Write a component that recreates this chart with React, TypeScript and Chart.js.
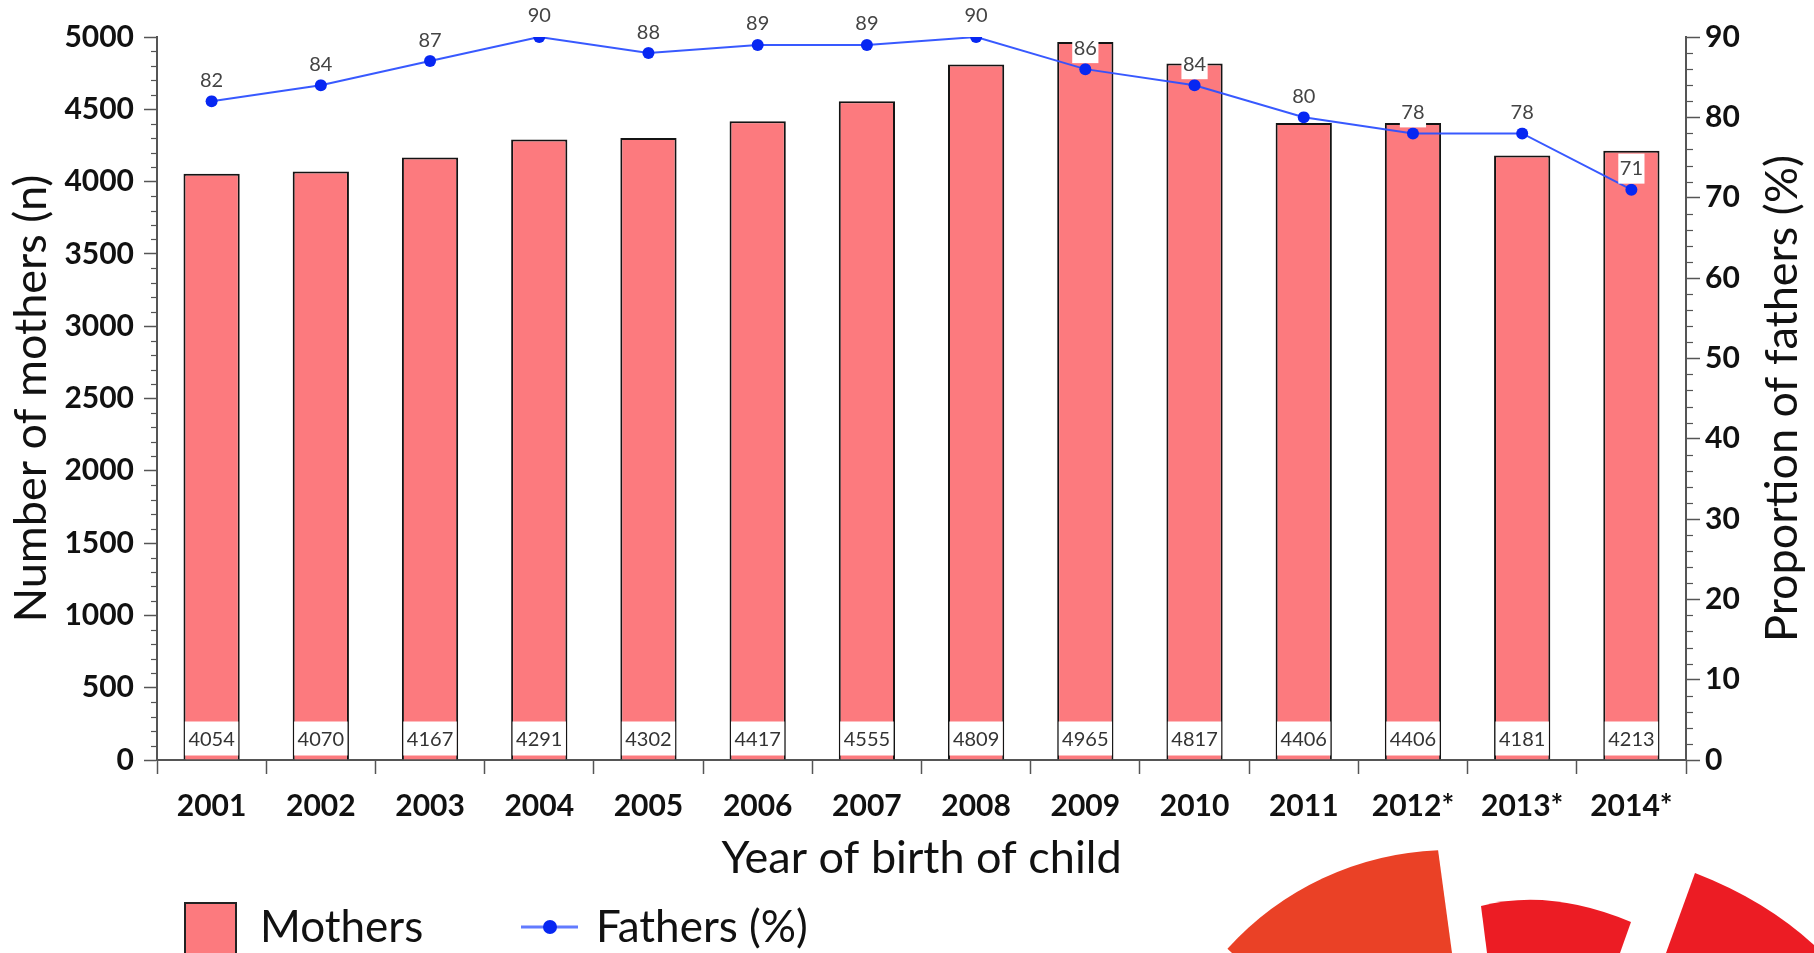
import React, { useEffect, useRef } from 'react';
import { Chart, registerables } from 'chart.js';

Chart.register(...registerables);

// ---- data ----
const years = ['2001', '2002', '2003', '2004', '2005', '2006', '2007', '2008', '2009', '2010', '2011', '2012*', '2013*', '2014*'];
const mothers = [4054, 4070, 4167, 4291, 4302, 4417, 4555, 4809, 4965, 4817, 4406, 4406, 4181, 4213];
const fathersPct = [82, 84, 87, 90, 88, 89, 89, 90, 86, 84, 80, 78, 78, 71];
const leftAxis = { min: 0, max: 5000, major: 500, minor: 100 };
const rightAxis = { min: 0, max: 90, major: 10, minor: 2 };
const seriesLabels = ['Mothers', 'Fathers (%)'];
const axisTitles = { x: 'Year of birth of child', left: 'Number of mothers (n)', right: 'Proportion of fathers (%)' };

// ---- styles ----
const FONT = 'Lato, "Open Sans", "DejaVu Sans", sans-serif';
const BAR_COLOR = '#FC7A7E';
const LINE_COLOR = 'rgba(45, 80, 255, 0.95)';
const POINT_COLOR = '#0727f2';
const AXIS_COLOR = '#555555';
const TEXT_COLOR = '#111111';

const minorTicksPlugin = {
  id: 'minorTicks',
  afterDraw(chart: any) {
    const ctx = chart.ctx;
    ctx.save();
    ctx.strokeStyle = AXIS_COLOR;
    ctx.lineWidth = 1.2;
    const y = chart.scales.y;
    for (let v = leftAxis.min; v <= leftAxis.max; v += leftAxis.minor) {
      if (v % leftAxis.major === 0) continue;
      const p = Math.round(y.getPixelForValue(v)) + 0.5;
      ctx.beginPath();
      ctx.moveTo(y.right, p);
      ctx.lineTo(y.right - 6, p);
      ctx.stroke();
    }
    const y1 = chart.scales.y1;
    for (let v = rightAxis.min; v <= rightAxis.max; v += rightAxis.minor) {
      if (v % rightAxis.major === 0) continue;
      const p = Math.round(y1.getPixelForValue(v)) + 0.5;
      ctx.beginPath();
      ctx.moveTo(y1.left, p);
      ctx.lineTo(y1.left + 7, p);
      ctx.stroke();
    }
    ctx.restore();
  },
};

const dataLabelsPlugin = {
  id: 'dataLabels',
  afterDatasetsDraw(chart: any) {
    const ctx = chart.ctx;
    ctx.save();
    ctx.font = `20px ${FONT}`;
    ctx.textAlign = 'center';
    ctx.textBaseline = 'middle';
    const barMeta = chart.getDatasetMeta(0);
    barMeta.data.forEach((el: any, i: number) => {
      const { x, base } = el.getProps(['x', 'base'], true);
      const txt = String(mothers[i]);
      const w = ctx.measureText(txt).width + 7;
      const h = 34;
      const bottom = base - 4;
      ctx.fillStyle = '#ffffff';
      ctx.fillRect(x - w / 2, bottom - h, w, h);
      ctx.fillStyle = '#333333';
      ctx.fillText(txt, x, bottom - h / 2 + 1);
    });
    const lineMeta = chart.getDatasetMeta(1);
    lineMeta.data.forEach((el: any, i: number) => {
      const { x, y } = el.getProps(['x', 'y'], true);
      const txt = String(fathersPct[i]);
      const w = ctx.measureText(txt).width + 3;
      const h = 30;
      const cy = y - 21;
      ctx.fillStyle = '#ffffff';
      ctx.fillRect(x - w / 2, cy - h / 2, w, h);
      ctx.fillStyle = '#444444';
      ctx.fillText(txt, x, cy);
    });
    ctx.restore();
  },
};

const extrasPlugin = {
  id: 'extras',
  afterDraw(chart: any) {
    const ctx = chart.ctx;
    ctx.save();
    // right axis title (reads bottom to top)
    const area = chart.chartArea;
    ctx.font = `45px ${FONT}`;
    ctx.fillStyle = TEXT_COLOR;
    ctx.textAlign = 'center';
    ctx.textBaseline = 'middle';
    ctx.translate(1782, (area.top + area.bottom) / 2);
    ctx.rotate(-Math.PI / 2);
    ctx.fillText(axisTitles.right, 0, 0);
    ctx.restore();

    // legend
    ctx.save();
    ctx.fillStyle = BAR_COLOR;
    ctx.strokeStyle = '#222';
    ctx.lineWidth = 2;
    ctx.fillRect(185, 903, 51, 60);
    ctx.strokeRect(185, 903, 51, 60);
    ctx.font = `44px ${FONT}`;
    ctx.fillStyle = TEXT_COLOR;
    ctx.textAlign = 'left';
    ctx.textBaseline = 'middle';
    ctx.fillText(seriesLabels[0], 260, 928);
    ctx.strokeStyle = 'rgba(70, 100, 255, 0.85)';
    ctx.lineWidth = 3;
    ctx.beginPath();
    ctx.moveTo(521, 927);
    ctx.lineTo(578, 927);
    ctx.stroke();
    ctx.fillStyle = POINT_COLOR;
    ctx.beginPath();
    ctx.arc(550, 927, 7, 0, Math.PI * 2);
    ctx.fill();
    ctx.fillStyle = TEXT_COLOR;
    ctx.fillText(seriesLabels[1], 596, 928);
    ctx.restore();

    // decorative logo fragments (bottom right)
    ctx.save();
    ctx.fillStyle = '#EA4126';
    ctx.beginPath();
    ctx.moveTo(1232, 953);
    ctx.arc(1450, 1150, 300, Math.atan2(953 - 1150, 1232 - 1450), Math.atan2(848 - 1150, 1438 - 1450));
    ctx.lineTo(1452, 953);
    ctx.closePath();
    ctx.fill();
    ctx.fillStyle = '#EC1C24';
    ctx.beginPath();
    ctx.moveTo(1487, 953);
    ctx.lineTo(1481, 906);
    ctx.quadraticCurveTo(1550, 888, 1631, 922);
    ctx.lineTo(1620, 953);
    ctx.closePath();
    ctx.fill();
    ctx.beginPath();
    ctx.moveTo(1666, 953);
    ctx.lineTo(1695, 873);
    ctx.quadraticCurveTo(1765, 900, 1814, 945);
    ctx.lineTo(1814, 953);
    ctx.closePath();
    ctx.fill();
    ctx.restore();
  },
};

export default function App() {
  const canvasRef = useRef<HTMLCanvasElement | null>(null);

  useEffect(() => {
    if (!canvasRef.current) return;
    const tickFont = { family: FONT, size: 30, weight: 'bold' };
    const chart = new Chart(canvasRef.current, {
      type: 'bar',
      data: {
        labels: years,
        datasets: [
          {
            type: 'bar',
            label: seriesLabels[0],
            data: mothers,
            backgroundColor: BAR_COLOR,
            borderColor: '#141414',
            borderWidth: 2,
            barPercentage: 0.515,
            categoryPercentage: 1,
            yAxisID: 'y',
            order: 2,
          },
          {
            type: 'line',
            label: seriesLabels[1],
            data: fathersPct,
            borderColor: LINE_COLOR,
            borderWidth: 2,
            pointRadius: 6,
            pointBackgroundColor: POINT_COLOR,
            pointBorderWidth: 0,
            tension: 0,
            yAxisID: 'y1',
            order: 1,
          } as any,
        ],
      },
      options: {
        animation: false,
        responsive: true,
        maintainAspectRatio: false,
        devicePixelRatio: 1,
        layout: { padding: { top: 37, bottom: 0, left: 0, right: 0 } },
        plugins: { legend: { display: false }, tooltip: { enabled: false } },
        scales: {
          x: {
            type: 'category',
            offset: true,
            grid: { display: true, drawOnChartArea: false, drawTicks: true, tickLength: 14, offset: true, tickColor: AXIS_COLOR, tickWidth: 1.5 },
            border: { display: true, color: AXIS_COLOR, width: 2 },
            ticks: { font: tickFont, color: TEXT_COLOR, padding: 14, maxRotation: 0, autoSkip: false },
            title: { display: true, text: axisTitles.x, font: { family: FONT, size: 45 }, color: TEXT_COLOR, padding: { top: 0, bottom: 68 } },
            afterFit: (s: any) => { s.height = 193; },
          },
          y: {
            type: 'linear',
            position: 'left',
            min: leftAxis.min,
            max: leftAxis.max,
            grid: { display: true, drawOnChartArea: false, drawTicks: true, tickLength: 13, tickColor: AXIS_COLOR, tickWidth: 1.5 },
            border: { display: true, color: AXIS_COLOR, width: 2 },
            ticks: { stepSize: leftAxis.major, font: tickFont, color: TEXT_COLOR, padding: 10, callback: (v: any) => String(v) },
            title: { display: true, text: axisTitles.left, font: { family: FONT, size: 45 }, color: TEXT_COLOR, padding: { top: 4, bottom: 0 } },
            afterFit: (s: any) => { s.width = 157; },
          },
          y1: {
            type: 'linear',
            position: 'right',
            min: rightAxis.min,
            max: rightAxis.max,
            grid: { display: true, drawOnChartArea: false, drawTicks: true, tickLength: 14, tickColor: AXIS_COLOR, tickWidth: 1.5 },
            border: { display: true, color: AXIS_COLOR, width: 2 },
            ticks: { stepSize: rightAxis.major, font: tickFont, color: TEXT_COLOR, padding: 5, callback: (v: any) => String(v) },
            afterFit: (s: any) => { s.width = 128; },
          },
        },
      } as any,
      plugins: [minorTicksPlugin, dataLabelsPlugin, extrasPlugin],
    });
    return () => chart.destroy();
  }, []);

  return (
    <div style={{ position: 'fixed', left: 0, top: 0, width: 1814, height: 953, background: '#ffffff' }}>
      <canvas ref={canvasRef} />
    </div>
  );
}
